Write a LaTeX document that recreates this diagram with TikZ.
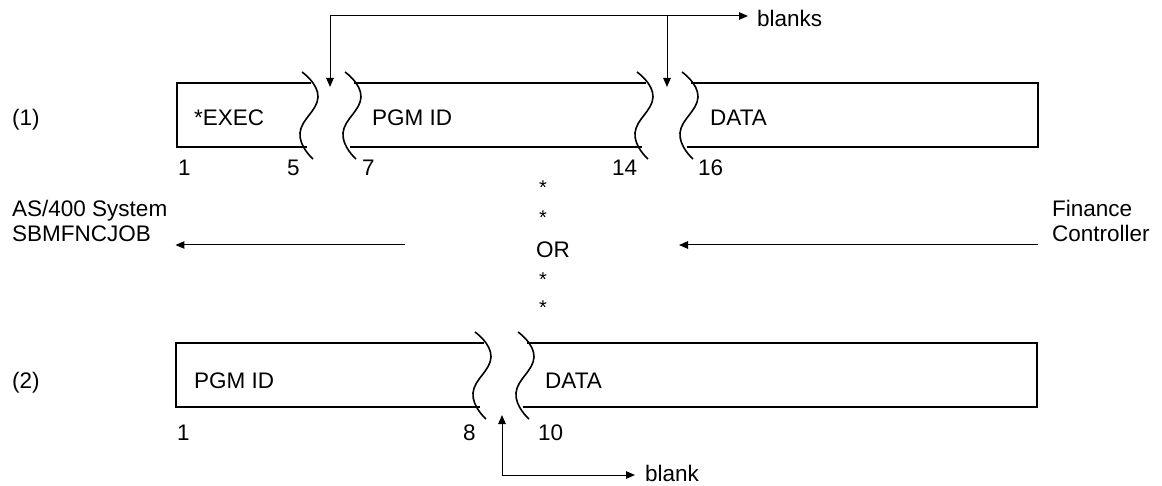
\documentclass[tikz,border=0pt]{standalone}
\usepackage{fontspec}
\setmainfont{Liberation Sans}
\usetikzlibrary{arrows.meta}
\begin{document}
\begin{tikzpicture}[x=1pt,y=-1pt,
  lbl/.style={anchor=base west,inner sep=0pt,font=\fontsize{22.5}{25}\selectfont},
  boxline/.style={line width=1.9pt,line join=miter},
  waveline/.style={line width=1.6pt},
  arr/.style={line width=1pt,-{Triangle[length=9pt,width=7.5pt]}},
  star/.style={anchor=base,inner sep=0pt,font=\fontsize{20}{20}\selectfont},
  wave/.pic={\draw[waveline] plot[smooth,tension=0.8] coordinates {(0,0) (16,25) (-2,61) (11,87)};}
]
\useasboundingbox (0,0) rectangle (1162,486);

% ---- row (1)
\draw[boxline] (311,83) -- (177,83) -- (177,147) -- (307,147);
\draw[boxline] (354,83) -- (646,83);
\draw[boxline] (350,147) -- (642,147);
\draw[boxline] (691,83) -- (1038,83) -- (1038,147) -- (687,147);
\pic at (302,72) {wave};
\pic at (345,72) {wave};
\pic at (637,72) {wave};
\pic at (682,72) {wave};

\node[lbl] (r1) at (12,126) {(1)};
\node[lbl] (exec) at (194,126) {*EXEC};
\node[lbl] (pgm1) at (372,126) {PGM ID};
\node[lbl] (data1) at (710,126) {DATA};
\node[lbl] (a1) at (178,176) {1};
\node[lbl] (a5) at (287,176) {5};
\node[lbl] (a7) at (362,176) {7};
\node[lbl] (a14) at (612,176) {14};
\node[lbl] (a16) at (698,176) {16};

\node[lbl,inner xsep=9pt] (blanks) at (748,27) {blanks};
\coordinate (j1) at (330,16);
\coordinate (j2) at (667,16);
\coordinate (g1) at (330,87);
\coordinate (g2) at (667,87);
\draw[arr] (j1) -- (j1 -| blanks.west);
\draw[arr] (j1) -- (g1);
\draw[arr] (j2) -- (g2);

% ---- middle
\node[star] (s1) at (543,195) {*};
\node[star] (s2) at (543,225) {*};
\node[lbl] (or) at (536,258) {OR};
\node[star] (s3) at (543,287) {*};
\node[star] (s4) at (543,315) {*};

\node[lbl,align=left] (as) at (12,242) {AS/400 System\\SBMFNCJOB};
\node[lbl,align=left] (fc) at (1052,242) {Finance\\Controller};
\coordinate (lstart) at (405,245);
\coordinate (rtip) at (679,245);
\draw[arr,shorten >=8pt] (lstart) -- (lstart -| as.east);
\draw[arr,shorten <=14pt] (rtip -| fc.west) -- (rtip);

% ---- row (2)
\draw[boxline] (484,343) -- (176,343) -- (176,407) -- (480,407);
\draw[boxline] (527,343) -- (1037,343) -- (1037,407) -- (523,407);
\pic at (475,332) {wave};
\pic at (518,332) {wave};

\node[lbl] (r2) at (12,388) {(2)};
\node[lbl] (pgm2) at (194,388) {PGM ID};
\node[lbl] (data2) at (545,388) {DATA};
\node[lbl] (b1) at (177,440) {1};
\node[lbl] (b8) at (463,440) {8};
\node[lbl] (b10) at (538,440) {10};

\node[lbl,inner xsep=10pt] (blank) at (635,481) {blank};
\coordinate (j3) at (502,475);
\coordinate (g3) at (502,415);
\draw[arr] (j3) -- (g3);
\draw[arr] (j3) -- (j3 -| blank.west);
\end{tikzpicture}
\end{document}
